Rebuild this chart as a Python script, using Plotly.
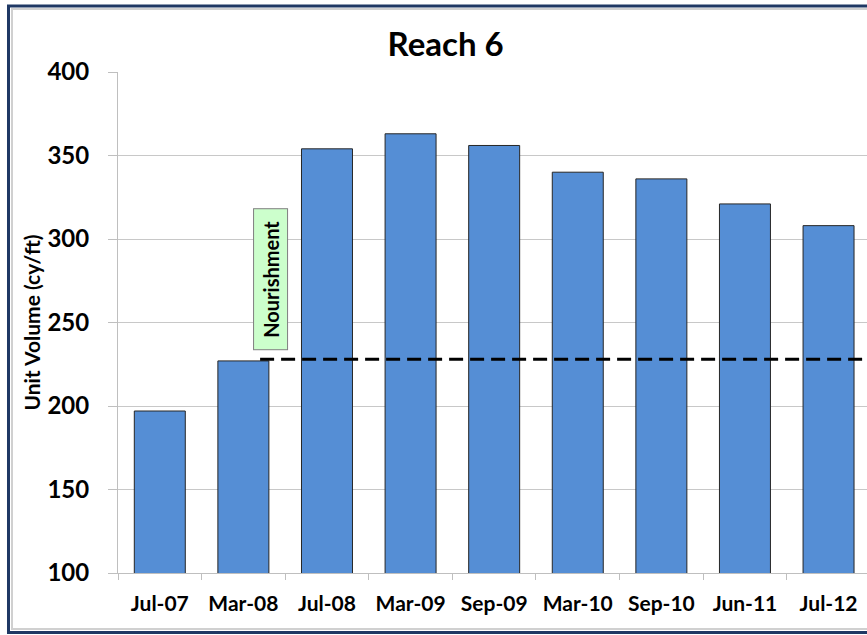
import plotly.graph_objects as go

surveys = ["Jul-07", "Mar-08", "Jul-08", "Mar-09", "Sep-09", "Mar-10", "Sep-10", "Jun-11", "Jul-12"]
unit_volume = [197, 227, 354, 363, 356, 340, 336, 321, 308]
nourish_level = 228
nourish_label = "Nourishment"
y_ticks = [100, 150, 200, 250, 300, 350, 400]

font = "Lato, Carlito, Calibri, sans-serif"

fig = go.Figure()
fig.add_trace(go.Bar(x=surveys, y=unit_volume, width=0.61,
                     marker=dict(color="#558ED5", line=dict(color="#262626", width=1))))

# post-nourishment level
fig.add_shape(type="line", xref="x", yref="y", x0=1.2, x1=8.46,
              y0=nourish_level, y1=nourish_level,
              line=dict(color="black", width=3, dash="14px,7px"))

fig.add_annotation(x=1.32, y=276, xref="x", yref="y", text=nourish_label,
                   textangle=-90, showarrow=False, bgcolor="#CCFFCC",
                   bordercolor="#7f7f7f", borderwidth=1, borderpad=2,
                   width=136, height=29,
                   font=dict(family=font, size=20, color="black", weight="bold"))

# outer chart frame (navy + light inner line)
fig.add_shape(type="rect", xref="paper", yref="paper", x0=-0.1462, x1=1.02, y0=-0.1188, y1=1.1317,
              line=dict(color="#1F3864", width=3), layer="below")
fig.add_shape(type="rect", xref="paper", yref="paper", x0=-0.1415, x1=1.02, y0=-0.1118, y1=1.1257,
              line=dict(color="#d0d0d0", width=2), layer="below")

fig.update_layout(
    width=867, height=635,
    margin=dict(l=118, r=0, t=72, b=62),
    paper_bgcolor="white", plot_bgcolor="white",
    showlegend=False,
    title=dict(text="Reach 6", x=0.514, xanchor="center", y=0.93, yanchor="middle",
               font=dict(family=font, size=33, color="black", weight="bold")),
    font=dict(family=font, color="black"),
)
fig.update_xaxes(range=[-0.5, 8.46], tickson="boundaries", ticks="outside", ticklen=6,
                 tickcolor="#bfbfbf", showline=True, linecolor="#bfbfbf",
                 tickfont=dict(family=font, size=21, color="black", weight="bold"),
                 ticklabelstandoff=12)
fig.update_yaxes(range=[100, 400], tickvals=y_ticks, ticks="outside", ticklen=9,
                 tickcolor="#bfbfbf", showline=True, linecolor="#bfbfbf",
                 gridcolor="#c8c8c8", gridwidth=1,
                 tickfont=dict(family=font, size=24, color="black", weight="bold"),
                 ticklabelstandoff=14,
                 title=dict(text="Unit Volume (cy/ft)", standoff=1,
                            font=dict(family=font, size=21, color="black", weight="bold")))

fig.write_html("out.html", config={"displayModeBar": False},
               post_script="document.body.style.margin='0';")
